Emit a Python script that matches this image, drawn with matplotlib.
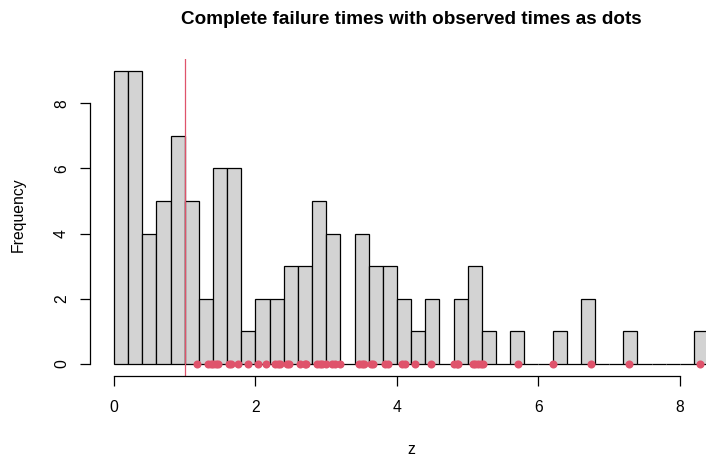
"""
Histogram of complete failure times, observed times drawn as dots on the baseline
"""

import matplotlib

matplotlib.use("Agg")
import matplotlib.pyplot as plt
import numpy as np

plt.rcParams["font.family"] = ["Liberation Sans", "DejaVu Sans"]

# ------------------------------------------------------------------------------------
# Data
# ------------------------------------------------------------------------------------
BIN_START = 0.0
BIN_WIDTH = 0.2
counts = [
    9, 9, 4, 5, 7, 5, 2, 6, 6, 1,
    2, 2, 3, 3, 5, 4, 0, 4, 3, 3,
    2, 1, 2, 0, 2, 3, 1, 0, 1, 0,
    0, 1, 0, 2, 0, 0, 1, 0, 0, 0,
    0, 1,
]
observed_times = [
    1.17, 1.33, 1.37, 1.40, 1.44, 1.47, 1.62, 1.66, 1.76, 1.90,
    2.04, 2.15, 2.28, 2.32, 2.35, 2.44, 2.48, 2.63, 2.70, 2.72,
    2.87, 2.91, 2.94, 3.00, 3.08, 3.12, 3.19, 3.46, 3.50, 3.53,
    3.64, 3.66, 3.83, 3.88, 4.07, 4.11, 4.25, 4.48, 4.81, 4.85,
    4.87, 5.08, 5.11, 5.15, 5.19, 5.22, 5.71, 6.21, 6.74, 7.28,
    8.28,
]
cutoff = 1.0

title = "Complete failure times with observed times as dots"
x_ticks = [0, 2, 4, 6, 8]
y_ticks = [0, 2, 4, 6, 8]

RED = "#DF536B"
GREY = "#D3D3D3"
AXIS_FS = 11.3
TITLE_FS = 13.6

# ------------------------------------------------------------------------------------
# Plot
# ------------------------------------------------------------------------------------
fig = plt.figure(figsize=(7.06, 4.55), dpi=100)
# plot region runs past the right edge, as in the cropped original
ax = fig.add_axes([90.2 / 706, 79.3 / 455, 641.8 / 706, 316.7 / 455])

lefts = BIN_START + BIN_WIDTH * np.arange(len(counts))
ax.bar(
    lefts,
    counts,
    width=BIN_WIDTH,
    align="edge",
    color=GREY,
    edgecolor="black",
    linewidth=0.9,
    zorder=1,
)
ax.axvline(cutoff, color=RED, linewidth=0.9, zorder=2)
ax.plot(
    observed_times,
    np.zeros(len(observed_times)),
    "o",
    color=RED,
    markersize=5.8,
    markeredgewidth=0,
    clip_on=False,
    zorder=3,
)

x_hi = BIN_START + BIN_WIDTH * len(counts)
ax.set_xlim(-0.04 * x_hi, x_hi * 1.04)
ax.set_ylim(-0.04 * max(counts), max(counts) * 1.04)

for s in ["top", "right"]:
    ax.spines[s].set_visible(False)
ax.spines["bottom"].set_bounds(x_ticks[0], x_ticks[-1])
ax.spines["left"].set_bounds(y_ticks[0], y_ticks[-1])
ax.spines["bottom"].set_linewidth(0.9)
ax.spines["left"].set_linewidth(0.9)

ax.set_xticks(x_ticks)
ax.set_yticks(y_ticks)
ax.set_yticklabels([str(v) for v in y_ticks], rotation=90, va="center")
ax.tick_params(axis="both", length=7.2, width=0.9, labelsize=AXIS_FS)
ax.tick_params(axis="x", pad=10.5)
ax.tick_params(axis="y", pad=8)

fig.text(18.5 / 706, 1 - 215 / 455, "Frequency", rotation=90, ha="center",
         va="center", fontsize=AXIS_FS)
fig.text(411 / 706, 1 - 449 / 455, "z", ha="center", va="center",
         fontsize=AXIS_FS)
fig.text(411 / 706, 1 - 24.5 / 455, title, ha="center", va="baseline",
         fontsize=TITLE_FS, fontweight="bold")

fig.savefig("out.png", dpi=100)
